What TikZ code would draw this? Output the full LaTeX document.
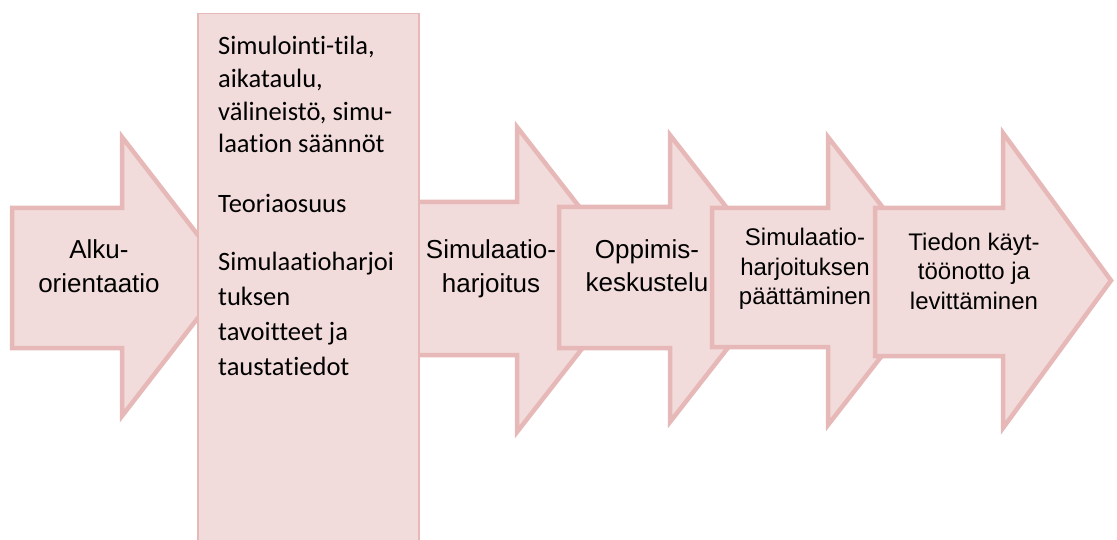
\documentclass[tikz,border=0pt]{standalone}
\usepackage{fontspec}
\setmainfont{Liberation Sans}
\newfontfamily\calibri[Ligatures=NoCommon]{Carlito}
\usepackage{xcolor}
\usetikzlibrary{positioning,calc}
\definecolor{stepfill}{RGB}{242,220,219}
\definecolor{stepline}{RGB}{230,185,184}
\newcommand{\flowarrow}[7]{%
  \draw[arrowshape] (#1,#2) -- (#4,#2) -- (#4,#5) -- (#7,{(#5+#6)/2})
    -- (#4,#6) -- (#4,#3) -- (#1,#3) -- cycle;}

\begin{document}
\begin{tikzpicture}[
  x=1pt, y=-1pt,
  every node/.style={inner sep=0pt, text=black},
  arrowshape/.style={fill=stepfill, draw=stepline, line width=4.5pt, line join=miter},
  infobox/.style={fill=stepfill, draw=stepline, line width=1.5pt},
  label26/.style={align=center, anchor=base, font=\fontsize{26}{33}\selectfont},
  label24/.style={align=center, anchor=base, font=\fontsize{24}{29.5}\selectfont},
  infotext/.style={align=left, anchor=base west, font=\calibri\fontsize{26.5}{32.7}\selectfont}
]
\useasboundingbox (0,0) rectangle (1117,540);

\flowarrow{12}{208}{348}{122}{137}{416}{230}
\flowarrow{410}{202}{355}{517}{127}{432}{636}
\node[infobox, anchor=north west, minimum width=221pt, minimum height=560pt] (info) at (197,13) {};
\flowarrow{559}{207}{348}{670}{135}{422}{782}
\flowarrow{712}{208}{347}{828}{137}{425}{940}
\flowarrow{875}{208}{356}{1003}{133}{428}{1111}

\node[label26] (alku) at (99,292) {Alku-\\orientaatio};
\node[label26] (harj) at (491,292) {Simulaatio-\\harjoitus};
\node[label26] (oppi) at (647,291) {Oppimis-\\keskustelu};
\node[label24] (paatos) at (805,305) {Simulaatio-\\harjoituksen\\päättäminen};
\node[label24] (tieto) at (974,309) {Tiedon käyt-\\töönotto ja\\levittäminen};

\node[infotext] (tila) at (218,153) {Simulointi-tila,\\aikataulu,\\välineistö, simu-\\laation säännöt};
\node[infotext] (teoria) at (218,213) {Teoriaosuus};
\node[infotext, font=\calibri\fontsize{26.5}{34.7}\selectfont] (tavoite) at (218,375) {Simulaatioharjoi\\tuksen\\tavoitteet ja\\taustatiedot};
\end{tikzpicture}
\end{document}
